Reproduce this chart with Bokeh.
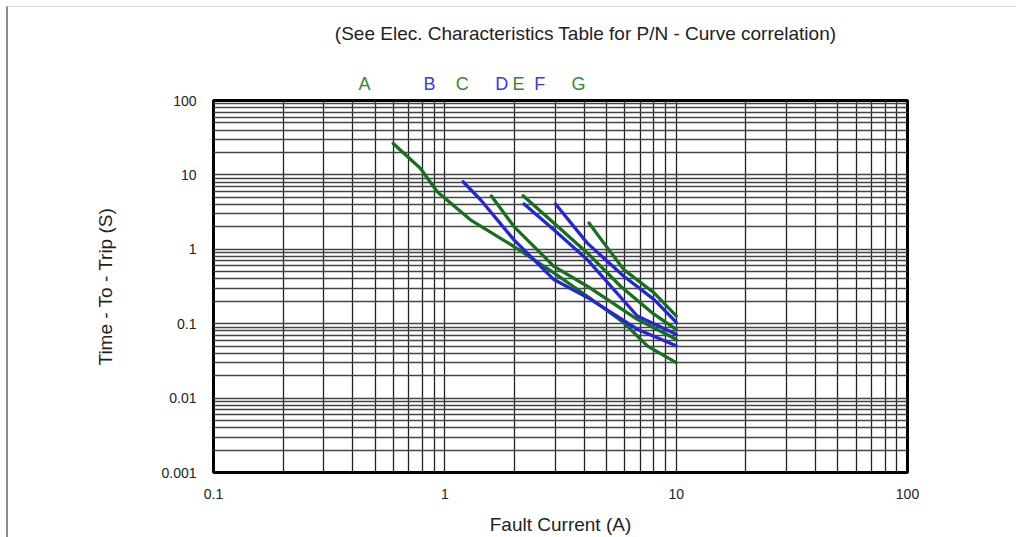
from bokeh.plotting import figure
from bokeh.layouts import column
from bokeh.models import FixedTicker
from bokeh.core.properties import value
from bokeh.embed import file_html
from bokeh.resources import INLINE

# ---- data ----
curve_names = ["A", "B", "C", "D", "E", "F", "G"]
curve_kind = ["green", "blue", "green", "blue", "green", "blue", "green"]

a_x = [0.598, 0.785, 0.927, 1.29, 1.99, 2.96, 4.13, 5.94, 7.5, 10.0]
a_y = [26.4, 12.2, 5.94, 2.49, 1.09, 0.482, 0.234, 0.103, 0.0504, 0.030]

b_x = [1.20, 1.43, 1.99, 2.96, 4.27, 6.79, 10.0]
b_y = [8.09, 4.6, 1.34, 0.392, 0.212, 0.0842, 0.0504]

c_x = [1.59, 1.99, 2.96, 4.13, 6.79, 10.0]
c_y = [5.21, 2.02, 0.59, 0.319, 0.1146, 0.0618]

d_x = [2.20, 2.96, 4.13, 6.79, 10.0]
d_y = [4.07, 1.83, 0.726, 0.127, 0.0721]

e_x = [2.18, 2.96, 4.13, 5.75, 8.01, 10.0]
e_y = [5.26, 2.25, 0.893, 0.319, 0.134, 0.0842]

f_x = [3.01, 4.13, 5.94, 8.01, 10.0]
f_y = [4.07, 1.21, 0.434, 0.212, 0.105]

g_x = [4.20, 4.87, 5.94, 8.01, 10.0]
g_y = [2.25, 1.21, 0.533, 0.261, 0.127]

# x position (in amperes) of each curve's letter above the chart
letter_x = [0.45, 0.859, 1.19, 1.76, 2.08, 2.57, 3.78]

x_major = [0.1, 1, 10, 100]
y_major = [0.001, 0.01, 0.1, 1, 10, 100]
x_labels = ["0.1", "1", "10", "100"]
y_labels = ["0.001", "0.01", "0.1", "1", "10", "100"]

title_text = "(See Elec. Characteristics Table for P/N - Curve correlation)"
x_title = "Fault Current (A)"
y_title = "Time - To - Trip (S)"

# ---- styling ----
FONT = "Liberation Sans"
line_col = {"green": "#17701b", "blue": "#2626d6"}
text_col = {"green": "#2e8b2e", "blue": "#3a3ae6"}

OFF_X, OFF_Y = 8, 7          # page offset of the content (after the thin border)
W = 1016 - OFF_X
TOP_H = 85
MAIN_H = 537 - OFF_Y - TOP_H
BL, BR = 213 - OFF_X, 109

# header strip: title and curve letters, sharing the x scale
top = figure(width=W, height=TOP_H, x_axis_type="log",
             x_range=(0.1, 100), y_range=(0, TOP_H),
             output_backend="svg", toolbar_location=None,
             min_border_left=BL, min_border_right=BR,
             min_border_top=0, min_border_bottom=0)
top.axis.visible = False
top.grid.visible = False
top.outline_line_color = None
top.background_fill_color = "white"
top.border_fill_color = "white"

letters_row = TOP_H - (83 - OFF_Y)
title_row = TOP_H - (33 - OFF_Y)
top.text(x=letter_x, y=[letters_row] * len(letter_x), text=curve_names,
         text_color=[text_col[k] for k in curve_kind],
         text_font=value(FONT), text_font_size="18px",
         text_align="center", text_baseline="middle")
top.text(x=[4.06], y=[title_row], text=[title_text],
         text_color="#222222", text_font=value(FONT), text_font_size="19px",
         text_align="center", text_baseline="middle")

p = figure(width=W, height=MAIN_H, x_axis_type="log", y_axis_type="log",
           x_range=top.x_range, y_range=(0.001, 100),
           output_backend="svg", toolbar_location=None,
           min_border_left=BL, min_border_right=BR,
           min_border_top=100 - OFF_Y - TOP_H, min_border_bottom=63)
p.background_fill_color = "white"
p.border_fill_color = "white"
p.outline_line_color = "black"
p.outline_line_width = 3

def minors(majors):
    out = []
    for m in majors[:-1]:
        out += [m * k for k in range(2, 10)]
    return out

p.xaxis.ticker = FixedTicker(ticks=x_major, minor_ticks=minors(x_major))
p.yaxis.ticker = FixedTicker(ticks=y_major, minor_ticks=minors(y_major))
p.xaxis.major_label_overrides = {v: s for v, s in zip(x_major, x_labels)}
p.yaxis.major_label_overrides = {v: s for v, s in zip(y_major, y_labels)}

for ax in (p.xaxis, p.yaxis):
    ax.axis_line_color = None
    ax.major_tick_line_color = None
    ax.minor_tick_line_color = None
    ax.major_label_text_font = FONT
    ax.major_label_text_font_size = "14px"
    ax.major_label_text_color = "#222222"
    ax.axis_label_text_font = FONT
    ax.axis_label_text_font_size = "19px"
    ax.axis_label_text_font_style = "normal"
    ax.axis_label_text_color = "#222222"

p.xaxis.axis_label = x_title
p.yaxis.axis_label = y_title
p.xaxis.major_label_standoff = 10
p.xaxis.axis_label_standoff = 12
p.yaxis.major_label_standoff = 11
p.yaxis.axis_label_standoff = 42

p.xgrid.grid_line_color = "#222222"
p.xgrid.grid_line_width = 1.3
p.xgrid.minor_grid_line_color = "#222222"
p.xgrid.minor_grid_line_width = 1.3
p.ygrid.grid_line_color = "#444444"
p.ygrid.grid_line_width = 1.3
p.ygrid.minor_grid_line_color = "#444444"
p.ygrid.minor_grid_line_width = 1.3

curves_x = [a_x, b_x, c_x, d_x, e_x, f_x, g_x]
curves_y = [a_y, b_y, c_y, d_y, e_y, f_y, g_y]
for xs, ys, kind in zip(curves_x, curves_y, curve_kind):
    p.line(xs, ys, line_color=line_col[kind], line_width=3.3,
           line_join="round", line_cap="round")

layout = column(top, p, spacing=0,
                styles={"margin-left": "6px", "margin-top": "6px",
                        "border-left": "2px solid #8c8c8c",
                        "border-top": "1px solid #dcdcdc"})
open("out.html", "w").write(file_html(layout, INLINE))
